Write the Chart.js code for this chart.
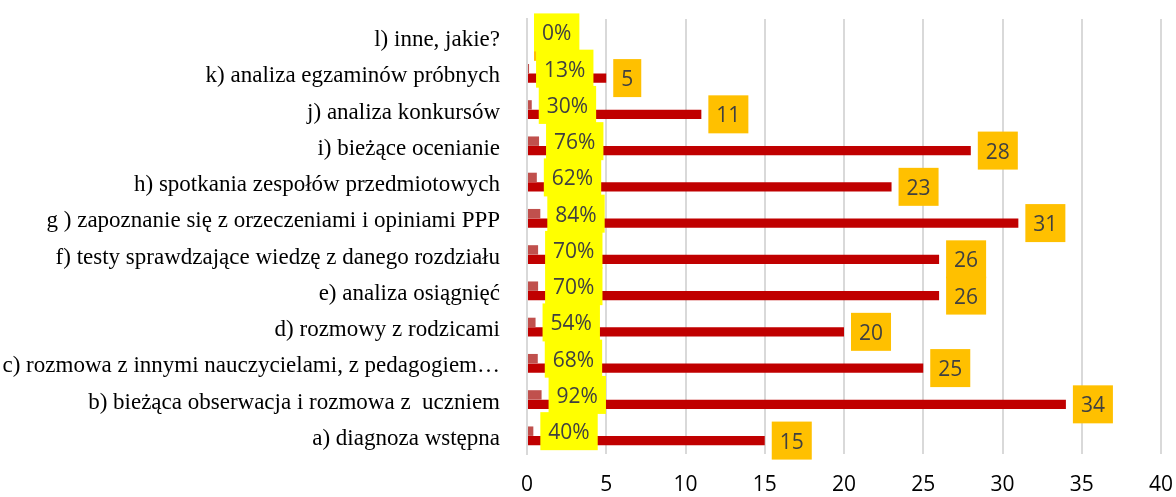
<!DOCTYPE html>
<html lang="pl">
<head>
    <meta charset="UTF-8">
    <title>Wykres</title>
    <script src="https://cdn.jsdelivr.net/npm/chart.js@4"></script>
    <style>
        html, body { margin: 0; padding: 0; background: #fff; }
        #wrap { width: 1176px; height: 497px; position: relative; }
    </style>
</head>
<body>
    <div id="wrap"><canvas id="chart"></canvas></div>

    <script>
        const categories = [
            'a) diagnoza wstępna',
            'b) bieżąca obserwacja i rozmowa z  uczniem',
            'c) rozmowa z innymi nauczycielami, z pedagogiem…',
            'd) rozmowy z rodzicami',
            'e) analiza osiągnięć',
            'f) testy sprawdzające wiedzę z danego rozdziału',
            'g ) zapoznanie się z orzeczeniami i opiniami PPP',
            'h) spotkania zespołów przedmiotowych',
            'i) bieżące ocenianie',
            'j) analiza konkursów',
            'k) analiza egzaminów próbnych',
            'l) inne, jakie?'
        ];
        const percentValues = [0.40, 0.92, 0.68, 0.54, 0.70, 0.70, 0.84, 0.62, 0.76, 0.30, 0.13, 0.00];
        const countValues = [15, 34, 25, 20, 26, 26, 31, 23, 28, 11, 5, 0];

        // boxes next to the bar ends, orange for counts first, then yellow for percentages
        const boxLabels = {
            id: 'boxLabels',
            afterDatasetsDraw(chart) {
                const ctx = chart.ctx;
                ctx.save();
                ctx.font = '21px "Open Sans"';
                ctx.textBaseline = 'middle';
                ctx.textAlign = 'left';
                const draw = (dsIndex, fill, fmt) => {
                    const meta = chart.getDatasetMeta(dsIndex);
                    meta.data.forEach((bar, i) => {
                        const txt = fmt(chart.data.datasets[dsIndex].data[i]);
                        const w = ctx.measureText(txt).width + 16;
                        const h = 38;
                        const x = bar.x + 7;
                        const y = bar.y - h / 2;
                        ctx.fillStyle = fill;
                        ctx.fillRect(x, y, w, h);
                        ctx.fillStyle = '#404040';
                        ctx.fillText(txt, x + 8, bar.y + 2);
                    });
                };
                draw(1, '#FFC000', v => String(v));
                draw(0, '#FFFF00', v => Math.round(v * 100) + '%');
                ctx.restore();
            }
        };

        new Chart(document.getElementById('chart'), {
            type: 'bar',
            data: {
                labels: categories,
                datasets: [
                    {
                        label: 'procent',
                        data: percentValues,
                        backgroundColor: '#C0504D',
                        barPercentage: 1,
                        categoryPercentage: 0.52
                    },
                    {
                        label: 'liczba',
                        data: countValues,
                        backgroundColor: '#C00000',
                        barPercentage: 1,
                        categoryPercentage: 0.52
                    }
                ]
            },
            options: {
                indexAxis: 'y',
                responsive: true,
                maintainAspectRatio: false,
                animation: false,
                layout: { padding: { top: 19, right: 15, left: 0, bottom: 0 } },
                scales: {
                    x: {
                        min: 0,
                        max: 40,
                        ticks: {
                            stepSize: 5,
                            color: '#000',
                            padding: 18,
                            font: { family: '"Open Sans"', size: 21 }
                        },
                        grid: { color: '#D9D9D9', lineWidth: 2, drawTicks: false },
                        border: { display: false },
                        afterFit: s => { s.height = 43; s.paddingLeft = 0; s.paddingRight = 0; }
                    },
                    y: {
                        reverse: true,
                        ticks: {
                            color: '#000',
                            padding: 27,
                            labelOffset: 3,
                            autoSkip: false,
                            font: { family: '"Liberation Serif"', size: 23 }
                        },
                        grid: { display: false, drawTicks: false },
                        border: { display: true, color: '#D9D9D9', width: 2 },
                        afterFit: s => { s.width = 527; s.paddingTop = 0; s.paddingBottom = 0; }
                    }
                },
                plugins: {
                    legend: { display: false },
                    tooltip: { enabled: false }
                }
            },
            plugins: [boxLabels]
        });
    </script>
</body>
</html>
